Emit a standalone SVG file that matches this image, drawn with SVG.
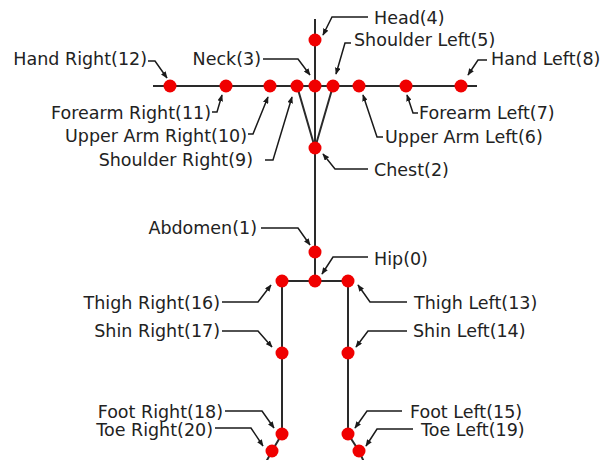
<svg xmlns="http://www.w3.org/2000/svg" width="600" height="460" viewBox="0 0 600 460">
  <style>
    .bone { fill: none; stroke: #2a2a2a; stroke-width: 2; }
    .joint { fill: #f00000; }
    .lead { fill: none; stroke: #1a1a1a; stroke-width: 1.5; marker-end: url(#tip); }
    .lbl { font-family: "DejaVu Sans", Verdana, sans-serif; font-size: 17.5px; fill: #222; }
    .end { text-anchor: end; }
  </style>
  <defs>
    <marker id="tip" viewBox="0 0 10 8" refX="9" refY="4" markerWidth="7" markerHeight="5.6" markerUnits="userSpaceOnUse" orient="auto">
      <path d="M0,0 L10,4 L0,8 z" fill="#1a1a1a"/>
    </marker>
  </defs>
  <rect width="600" height="460" fill="#fff"/>

  <!-- skeleton bones -->
  <g id="bones">
    <line class="bone" x1="315" y1="19" x2="315" y2="281"/>
    <line class="bone" x1="153" y1="86" x2="477" y2="86"/>
    <polyline class="bone" points="297,86 315,148 333,86"/>
    <line class="bone" x1="282" y1="281" x2="348" y2="281"/>
    <polyline class="bone" points="282,281 282,434 272,451 266,462"/>
    <polyline class="bone" points="348,281 348,434 359,451 364,462"/>
  </g>

  <!-- label callouts -->
  <g id="callouts">
    <polyline class="lead" points="368,17 332,17 323,35"/>
    <polyline class="lead" points="351,43 345,43 336,74"/>
    <polyline class="lead" points="487,60 478,60 468,75"/>
    <polyline class="lead" points="418,113 413,113 407,95"/>
    <polyline class="lead" points="383,137 377,137 363,95"/>
    <polyline class="lead" points="368,169 335,169 323,154"/>
    <polyline class="lead" points="263,59 298,59 310,75"/>
    <polyline class="lead" points="148,61 155,61 167,78"/>
    <polyline class="lead" points="212,112 217,112 222,95"/>
    <polyline class="lead" points="248,134 253,134 268,97"/>
    <polyline class="lead" points="265,160 273,160 292,97"/>
    <polyline class="lead" points="261,228 298,228 310,245"/>
    <polyline class="lead" points="368,257 333,257 322,274"/>
    <polyline class="lead" points="222,302 258,302 271,285"/>
    <polyline class="lead" points="407,302 370,302 358,285"/>
    <polyline class="lead" points="222,331 258,331 272,347"/>
    <polyline class="lead" points="407,331 368,331 356,347"/>
    <polyline class="lead" points="225,411 262,411 274,428"/>
    <polyline class="lead" points="215,428 251,428 263,446"/>
    <polyline class="lead" points="402,411 367,411 355,428"/>
    <polyline class="lead" points="413,429 377,429 366,446"/>
  </g>

  <!-- joints -->
  <g id="hip"><circle class="joint" cx="315" cy="281" r="6.5"/><text class="lbl" x="374" y="265">Hip(0)</text></g>
  <g id="abdomen"><circle class="joint" cx="315" cy="252" r="6.5"/><text class="lbl end" x="257" y="234">Abdomen(1)</text></g>
  <g id="chest"><circle class="joint" cx="315" cy="148" r="6.5"/><text class="lbl" x="374" y="176">Chest(2)</text></g>
  <g id="neck"><circle class="joint" cx="315" cy="86" r="6.5"/><text class="lbl end" x="261" y="65">Neck(3)</text></g>
  <g id="head"><circle class="joint" cx="315" cy="40" r="6.5"/><text class="lbl" x="374" y="24">Head(4)</text></g>
  <g id="shoulder-left"><circle class="joint" cx="333" cy="86" r="6.5"/><text class="lbl" x="354" y="46">Shoulder Left(5)</text></g>
  <g id="upper-arm-left"><circle class="joint" cx="359" cy="86" r="6.5"/><text class="lbl" x="385" y="143">Upper Arm Left(6)</text></g>
  <g id="forearm-left"><circle class="joint" cx="406" cy="86" r="6.5"/><text class="lbl" x="419" y="119">Forearm Left(7)</text></g>
  <g id="hand-left"><circle class="joint" cx="461" cy="86" r="6.5"/><text class="lbl" x="491" y="65">Hand Left(8)</text></g>
  <g id="shoulder-right"><circle class="joint" cx="297" cy="86" r="6.5"/><text class="lbl end" x="253" y="166">Shoulder Right(9)</text></g>
  <g id="upper-arm-right"><circle class="joint" cx="270" cy="86" r="6.5"/><text class="lbl end" x="247" y="142">Upper Arm Right(10)</text></g>
  <g id="forearm-right"><circle class="joint" cx="226" cy="86" r="6.5"/><text class="lbl end" x="211" y="119">Forearm Right(11)</text></g>
  <g id="hand-right"><circle class="joint" cx="170" cy="86" r="6.5"/><text class="lbl end" x="147" y="65">Hand Right(12)</text></g>
  <g id="thigh-left"><circle class="joint" cx="348" cy="281" r="6.5"/><text class="lbl" x="414" y="309">Thigh Left(13)</text></g>
  <g id="shin-left"><circle class="joint" cx="348" cy="353" r="6.5"/><text class="lbl" x="413" y="337">Shin Left(14)</text></g>
  <g id="foot-left"><circle class="joint" cx="348" cy="434" r="6.5"/><text class="lbl" x="410" y="418">Foot Left(15)</text></g>
  <g id="thigh-right"><circle class="joint" cx="282" cy="281" r="6.5"/><text class="lbl end" x="220" y="309">Thigh Right(16)</text></g>
  <g id="shin-right"><circle class="joint" cx="282" cy="353" r="6.5"/><text class="lbl end" x="220" y="337">Shin Right(17)</text></g>
  <g id="foot-right"><circle class="joint" cx="282" cy="434" r="6.5"/><text class="lbl end" x="223" y="418">Foot Right(18)</text></g>
  <g id="toe-left"><circle class="joint" cx="359" cy="451" r="6.5"/><text class="lbl" x="421" y="436">Toe Left(19)</text></g>
  <g id="toe-right"><circle class="joint" cx="272" cy="451" r="6.5"/><text class="lbl end" x="213" y="436">Toe Right(20)</text></g>
</svg>
